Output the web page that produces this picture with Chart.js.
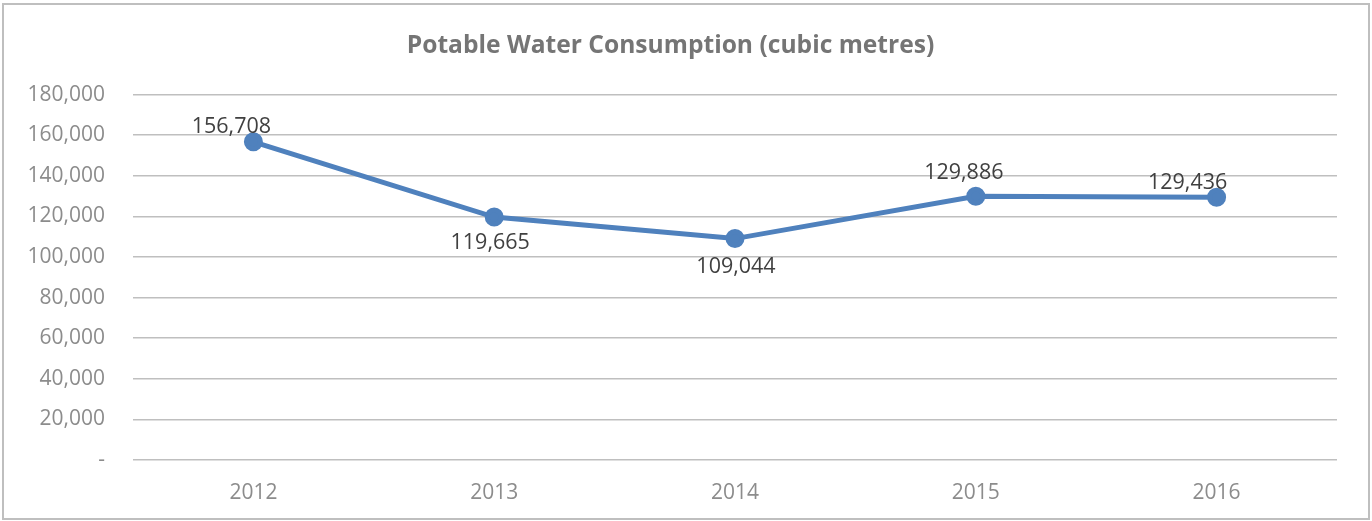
<!DOCTYPE html>
<html>
<head>
<meta charset="utf-8">
<script src="https://cdn.jsdelivr.net/npm/chart.js@4.4.0/dist/chart.umd.min.js"></script>
<style>
  html, body { margin: 0; padding: 0; background: #fff; }
  #box {
    position: absolute; left: 2px; top: 3px;
    width: 1364px; height: 513px;
    border: 2px solid #bfbfbf; background: #fff;
  }
  canvas { display: block; }
</style>
</head>
<body>
<div id="box"><canvas id="chart" width="1364" height="513"></canvas></div>
<script>
const years = ['2012', '2013', '2014', '2015', '2016'];
const consumption = [156708, 119665, 109044, 129886, 129436];
const yTicks = [0, 20000, 40000, 60000, 80000, 100000, 120000, 140000, 160000, 180000];

// where Excel put each value label, relative to its point
const labelOffsets = [[-22, -15], [-4, 26], [1, 28], [-12, -23], [-29, -14]];

const fmt = v => v === 0 ? '-' : v.toLocaleString('en-US');

const valueLabels = {
  id: 'valueLabels',
  afterDatasetsDraw(chart) {
    const c = chart.ctx;
    const meta = chart.getDatasetMeta(0);
    c.save();
    c.font = '21.5px "Open Sans"';
    c.fillStyle = '#404040';
    c.textAlign = 'center';
    c.textBaseline = 'middle';
    meta.data.forEach((pt, i) => {
      const [dx, dy] = labelOffsets[i];
      c.fillText(fmt(consumption[i]), pt.x + dx, pt.y + dy);
    });
    c.restore();
  }
};

const ctx = document.getElementById('chart').getContext('2d');
new Chart(ctx, {
  type: 'line',
  data: {
    labels: years,
    datasets: [{
      data: consumption,
      borderColor: '#4f81bd',
      backgroundColor: '#4f81bd',
      borderWidth: 5,
      pointRadius: 7,
      pointHoverRadius: 7,
      tension: 0,
      fill: false
    }]
  },
  options: {
    responsive: false,
    animation: false,
    layout: { padding: { left: 0, right: 31, top: 0, bottom: 0 } },
    plugins: {
      legend: { display: false },
      tooltip: { enabled: false },
      title: {
        display: true,
        text: 'Potable Water Consumption (cubic metres)',
        color: '#757575',
        font: { family: 'Open Sans', size: 24.6, weight: 'bold' },
        padding: { top: 26, bottom: 34 }
      }
    },
    scales: {
      x: {
        offset: true,
        grid: { display: false, drawTicks: false },
        border: { display: false },
        ticks: { color: '#8c8c8c', font: { family: 'Open Sans', size: 21 }, padding: 20 },
        afterFit(scale) { scale.height = 58; }
      },
      y: {
        min: 0,
        max: 180000,
        afterBuildTicks(scale) { scale.ticks = yTicks.map(v => ({ value: v })); },
        grid: { color: '#bfbfbf', lineWidth: 1.5, drawTicks: false },
        border: { display: false },
        ticks: { color: '#8c8c8c', font: { family: 'Open Sans', size: 21 }, padding: 28, callback: fmt },
        afterFit(scale) { scale.width = 129; }
      }
    }
  },
  plugins: [valueLabels]
});
</script>
</body>
</html>
